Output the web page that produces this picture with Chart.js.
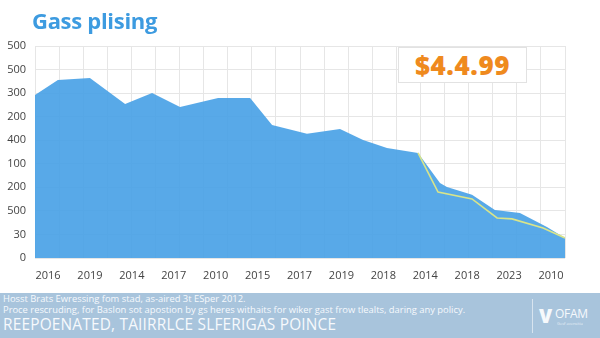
<!DOCTYPE html>
<html>
<head>
<meta charset="utf-8">
<script src="https://cdn.jsdelivr.net/npm/chart.js@4.4.0/dist/chart.umd.min.js"></script>
<style>
  html, body { margin: 0; padding: 0; background: #fff; }
  #wrap { position: relative; width: 600px; height: 338px; overflow: hidden; font-family: "Open Sans", sans-serif; }
  #chartBox { position: absolute; left: 0; top: 0; width: 600px; height: 282px; }
  #title { position: absolute; left: 32px; top: 5px; font: 700 22px "Open Sans", sans-serif; color: #3d9be0; letter-spacing: -0.3px; }
  #price { position: absolute; left: 398px; top: 47px; width: 129px; height: 36px; background: #fff; border: 1px solid #e2e2e2;
           box-sizing: border-box; text-align: center; font: 800 26px/34px "Open Sans", sans-serif; color: #ef8a1e; letter-spacing: 0.6px; }
  #foot { position: absolute; left: 0; top: 293px; width: 600px; height: 45px; background: #a8c4dc; color: #f6f9fc; }
  #foot .l1, #foot .l2 { position: absolute; left: 3px; font-size: 9.4px; line-height: 10px; white-space: nowrap; }
  #foot .l1 { top: 1px; }
  #foot .l2 { top: 12px; }
  #foot .l3 { position: absolute; left: 3px; top: 23px; font-size: 15.4px; line-height: 18px; white-space: nowrap; letter-spacing: 0.2px; }
  #foot .div { position: absolute; left: 532px; top: 6px; width: 1px; height: 34px; background: rgba(255,255,255,0.55); }
  #foot .logoV { position: absolute; left: 539px; top: 10px; font: 800 19px "Open Sans", sans-serif; }
  #foot .logoT { position: absolute; left: 555px; top: 12px; font: 400 12px "Open Sans", sans-serif; letter-spacing: -0.3px; }
  #foot .logoS { position: absolute; left: 557px; top: 28px; font-size: 4px; opacity: 0.8; }
</style>
</head>
<body>
<div id="wrap">
  <div id="chartBox"><canvas id="gasChart"></canvas></div>
  <div id="title">Gass plising</div>
  <div id="price">$4.4.99</div>
  <div id="foot">
    <div class="l1">Hosst Brats Ewressing fom stad, as-aired 3t ESper 2012.</div>
    <div class="l2">Proce rescruding, for Baslon sot apostion by gs heres withaits for wiker gast frow tlealts, daring any policy.</div>
    <div class="l3">REEPOENATED, TAIIRRLCE SLFERIGAS POINCE</div>
    <div class="div"></div>
    <div class="logoV">V</div>
    <div class="logoT">OFAM</div>
    <div class="logoS">Gesf avensitia</div>
  </div>
</div>
<script>
/* ─── DATA ─────────────────────────────────────────────── */
const yearLabels = ['2016','2019','2014','2017','2010','2015','2017','2019','2018','2014','2018','2023','2010'];
const yTickLabels = ['0','30','500','200','100','400','200','300','500','500'];

// area outline (x in grid steps, y in tick steps)
const areaX = [0, 0.95, 2.28, 3.74, 4.86, 6.02, 7.60, 8.93, 9.84, 11.29, 12.66, 13.62, 14.61, 15.90, 16.81, 17.10, 18.14, 19.09, 20.13, 21.25, 22.0];
const areaY = [6.92, 7.56, 7.64, 6.54, 7.01, 6.41, 6.79, 6.79, 5.65, 5.27, 5.48, 5.01, 4.67, 4.46, 3.18, 3.01, 2.68, 2.04, 1.91, 1.32, 0.85];

// thin yellow trend line at the end
const trendX = [15.90, 16.73, 18.14, 19.18, 19.80, 21.09, 22.0];
const trendY = [4.46, 2.80, 2.51, 1.70, 1.66, 1.27, 0.85];

const labelStart = 0.54, labelStep = 1.74;

/* ─── CHART ────────────────────────────────────────────── */
const toPts = (xs, ys) => xs.map((x, i) => ({ x, y: ys[i] }));
const tickFont = { family: "'Open Sans', sans-serif", size: 11 };

new Chart(document.getElementById('gasChart'), {
  type: 'line',
  data: {
    datasets: [
      {
        data: toPts(trendX, trendY),
        borderColor: '#d9e58a',
        borderWidth: 1.6,
        pointRadius: 0,
        fill: false,
        tension: 0
      },
      {
        data: toPts(areaX, areaY),
        borderColor: 'rgba(0,0,0,0)',
        borderWidth: 0,
        backgroundColor: 'rgba(74,162,230,0.92)',
        pointRadius: 0,
        fill: 'origin',
        tension: 0
      }
    ]
  },
  options: {
    responsive: true,
    maintainAspectRatio: false,
    animation: false,
    layout: { padding: { left: 0, right: 35, top: 46, bottom: 0 } },
    plugins: { legend: { display: false }, tooltip: { enabled: false } },
    scales: {
      x: {
        type: 'linear', position: 'top', min: 0, max: 22,
        ticks: { display: false, stepSize: 1 },
        grid: { color: '#e6e6e6', lineWidth: 1, drawTicks: false },
        border: { display: false },
        afterFit: s => { s.height = 0; }
      },
      xl: {
        type: 'linear', position: 'bottom', min: 0, max: 22,
        afterBuildTicks: s => { s.ticks = yearLabels.map((_, i) => ({ value: labelStart + i * labelStep })); },
        ticks: {
          font: tickFont, color: '#444', padding: 3, maxRotation: 0, autoSkip: false,
          callback: (v, i) => yearLabels[i]
        },
        grid: { display: false },
        border: { display: false },
        afterFit: s => { s.height = 24; }
      },
      y: {
        type: 'linear', min: 0, max: 9,
        ticks: { stepSize: 1, font: tickFont, color: '#444', padding: 9, callback: (v) => yTickLabels[v] },
        grid: { color: '#e6e6e6', lineWidth: 1, drawTicks: false },
        border: { display: false },
        afterFit: s => { s.width = 35; }
      }
    }
  }
});
</script>
</body>
</html>
